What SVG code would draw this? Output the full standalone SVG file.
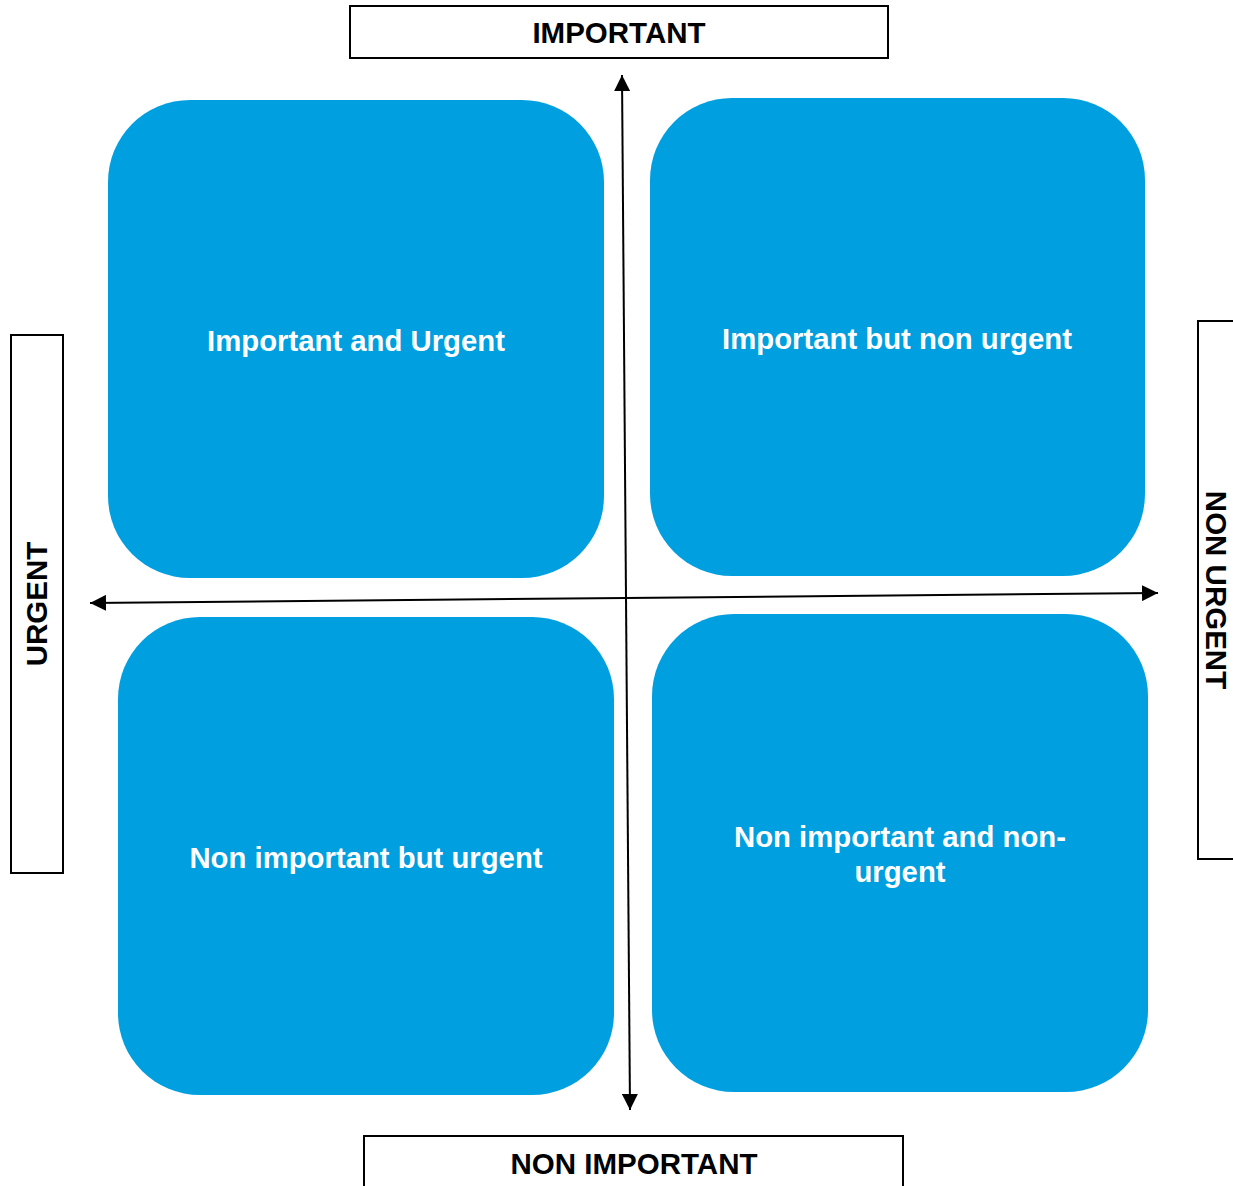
<svg xmlns="http://www.w3.org/2000/svg" width="1233" height="1186" viewBox="0 0 1233 1186">
<style>
.q{fill:#009fe0}
.qt{font-family:"Liberation Sans",Arial,sans-serif;font-weight:bold;font-size:29.3px;fill:#fff;text-anchor:middle}
.lb{fill:#fff;stroke:#000;stroke-width:2}
.lt{font-family:"Liberation Sans",Arial,sans-serif;font-weight:bold;font-size:29.5px;fill:#000;text-anchor:middle}
.ax{stroke:#000;stroke-width:2;fill:none;marker-end:url(#ah)}
</style>
<defs>
<marker id="ah" viewBox="0 0 10 10" refX="10" refY="5" markerWidth="16" markerHeight="16" markerUnits="userSpaceOnUse" orient="auto">
<path d="M0,0 L10,5 L0,10 z" fill="#000"/>
</marker>
</defs>
<rect width="1233" height="1186" fill="#fff"/>
<g id="q-important-urgent"><rect class="q" x="108" y="100" width="496" height="478" rx="82"/><text class="qt" x="356" y="351">Important and Urgent</text></g>
<g id="q-important-nonurgent"><rect class="q" x="650" y="98" width="495" height="478" rx="82"/><text class="qt" x="897" y="349">Important but non urgent</text></g>
<g id="q-nonimportant-urgent"><rect class="q" x="118" y="617" width="496" height="478" rx="82"/><text class="qt" x="366" y="868">Non important but urgent</text></g>
<g id="q-nonimportant-nonurgent"><rect class="q" x="652" y="614" width="496" height="478" rx="82"/><text class="qt" x="900" y="847">Non important and non-</text><text class="qt" x="900" y="882">urgent</text></g>
<g id="lbl-important"><rect class="lb" x="350" y="6" width="538" height="52"/><text class="lt" x="619" y="43">IMPORTANT</text></g>
<g id="lbl-nonimportant"><rect class="lb" x="364" y="1136" width="539" height="60"/><text class="lt" x="634" y="1174">NON IMPORTANT</text></g>
<g id="lbl-urgent"><rect class="lb" x="11" y="335" width="52" height="538"/><text class="lt" transform="translate(47,604) rotate(-90)">URGENT</text></g>
<g id="lbl-nonurgent"><rect class="lb" x="1198" y="321" width="52" height="538"/><text class="lt" transform="translate(1206,590) rotate(90)">NON URGENT</text></g>
<g id="connectors">
<line class="ax" x1="626" y1="598" x2="622" y2="75"/>
<line class="ax" x1="626" y1="598" x2="630" y2="1110"/>
<line class="ax" x1="626" y1="598" x2="90" y2="603"/>
<line class="ax" x1="626" y1="598" x2="1158" y2="593"/>
</g>
</svg>
